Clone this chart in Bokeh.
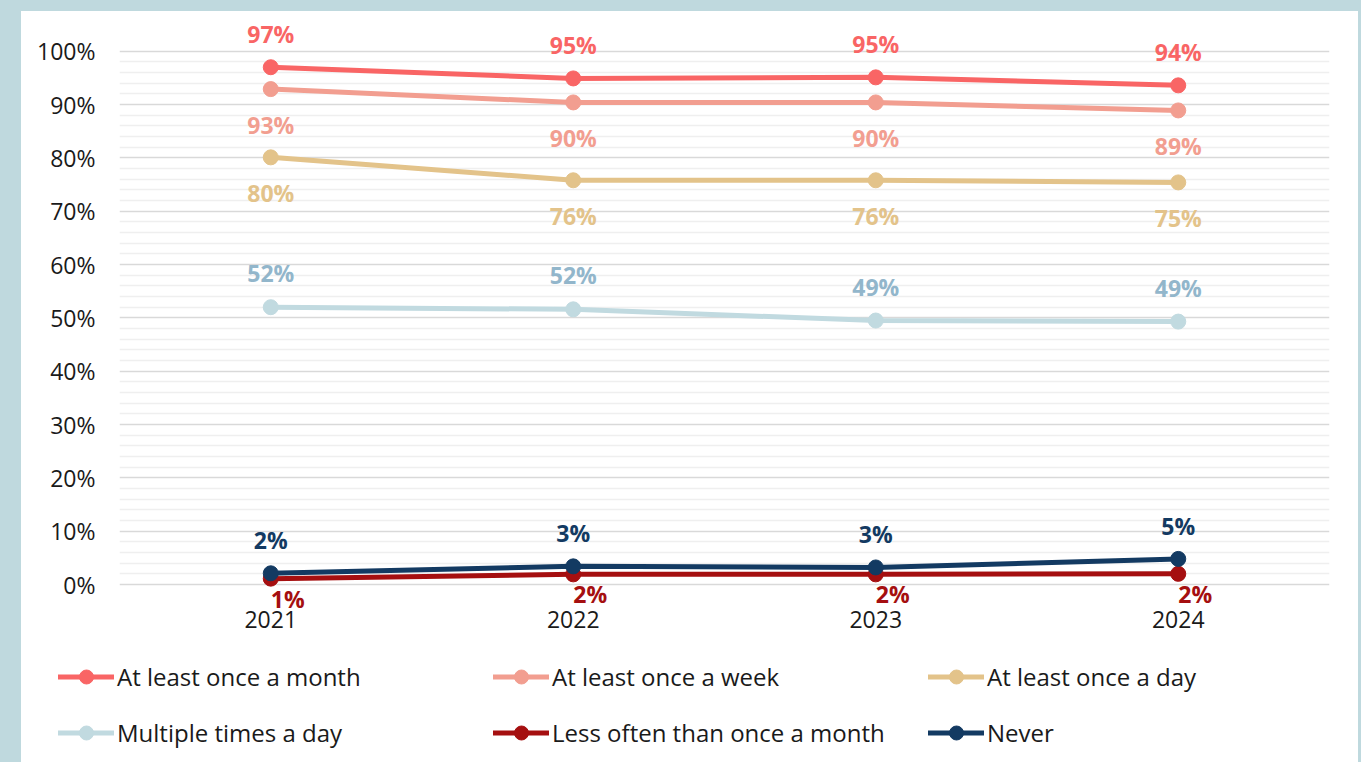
from bokeh.plotting import figure
from bokeh.models import (FactorRange, Range1d, ColumnDataSource, LabelSet, Legend, LegendItem,
                          FixedTicker, PrintfTickFormatter)
from bokeh.layouts import column
from bokeh.embed import file_html
from bokeh.resources import INLINE
from bokeh.core.properties import value

# ---------------- data ----------------
years = ["2021", "2022", "2023", "2024"]

names = ["At least once a month", "At least once a week", "At least once a day",
         "Multiple times a day", "Less often than once a month", "Never"]

monthly = [97.0, 94.9, 95.1, 93.6]
weekly = [92.9, 90.4, 90.4, 88.9]
daily = [80.1, 75.8, 75.8, 75.4]
multiple = [52.0, 51.6, 49.5, 49.3]
less_often = [1.1, 1.9, 1.9, 2.0]
never = [2.1, 3.4, 3.2, 4.8]

monthly_lbl = ["97%", "95%", "95%", "94%"]
weekly_lbl = ["93%", "90%", "90%", "89%"]
daily_lbl = ["80%", "76%", "76%", "75%"]
multiple_lbl = ["52%", "52%", "49%", "49%"]
less_often_lbl = ["1%", "2%", "2%", "2%"]
never_lbl = ["2%", "3%", "3%", "5%"]

y_ticks = list(range(0, 101, 10))
y_minor = [v for v in range(2, 100, 2) if v % 10]

# ---------------- styles ----------------
FONT = "Open Sans"
line_colors = ["#f96565", "#f29e90", "#e3c38a", "#c1dae0", "#a50f10", "#133a62"]
label_colors = ["#f96565", "#f29e90", "#e3c38a", "#92b6cb", "#a50f10", "#133a62"]
# (x_offset, y_offset) of the value labels in pixels
offsets = [(0, 33), (0, -36), (0, -36), (0, 34), (17, -20), (0, 33)]

values = [monthly, weekly, daily, multiple, less_often, never]
labels = [monthly_lbl, weekly_lbl, daily_lbl, multiple_lbl, less_often_lbl, never_lbl]

W = 1337
p = figure(x_range=FactorRange(factors=years, range_padding=0),
           y_range=Range1d(-4.5, 106.7),
           width=W, height=627, output_backend="svg", toolbar_location=None,
           min_border_left=98, min_border_right=29, min_border_top=4, min_border_bottom=30,
           background_fill_color="white", border_fill_color="white")
p.outline_line_color = None

p.xgrid.grid_line_color = None
p.ygrid.grid_line_color = "#d9d9d9"
p.ygrid.grid_line_width = 1.5
p.ygrid.minor_grid_line_color = "#efefef"
p.ygrid.minor_grid_line_width = 1.5

p.yaxis.ticker = FixedTicker(ticks=y_ticks, minor_ticks=y_minor)
p.yaxis.formatter = PrintfTickFormatter(format="%d%%")
for ax in (p.xaxis, p.yaxis):
    ax.axis_line_color = None
    ax.major_tick_line_color = None
    ax.minor_tick_line_color = None
    ax.major_label_text_font = FONT
    ax.major_label_text_font_size = "23px"
    ax.major_label_text_color = "#1a1a1a"
p.yaxis.major_label_standoff = 18
p.xaxis.major_label_standoff = -4

# legend lives in its own strip below the chart
pl = figure(width=W, height=124, x_range=FactorRange(factors=years), y_range=Range1d(-300, -200),
            output_backend="svg", toolbar_location=None, min_border=0,
            x_axis_location=None, y_axis_location=None,
            background_fill_color="white", border_fill_color="white")
pl.outline_line_color = None
pl.grid.visible = False
if hasattr(pl, "frame_align"):
    pl.frame_align = False

items = []
for name, vals, lbls, lc, tc, (dx, dy) in zip(names, values, labels, line_colors, label_colors, offsets):
    src = ColumnDataSource(dict(x=years, y=vals, t=lbls))
    p.line("x", "y", source=src, line_color=lc, line_width=5, line_cap="round", line_join="round")
    p.scatter("x", "y", source=src, size=15, fill_color=lc, line_color=lc)
    ls = LabelSet(x="x", y="y", text="t", source=src, x_offset=dx, y_offset=dy,
                  text_align="center", text_baseline="middle",
                  text_font=value(FONT), text_font_size="23px", text_font_style="bold",
                  text_color=tc)
    p.add_layout(ls)
    # same series in the legend strip (its y-range keeps them out of view)
    lr = pl.line("x", "y", source=src, line_color=lc, line_width=5, line_cap="round")
    sr = pl.scatter("x", "y", source=src, size=15, fill_color=lc, line_color=lc)
    items.append(LegendItem(label=name, renderers=[lr, sr]))

legend = Legend(items=items, location=(37, 12), orientation="horizontal", ncols=3,
                glyph_width=56, glyph_height=35, label_height=35, label_width=355,
                label_standoff=3, spacing=21, padding=0, margin=0,
                border_line_color=None, background_fill_alpha=0,
                label_text_font=FONT, label_text_font_size="24px", label_text_color="#1a1a1a")
pl.add_layout(legend)

layout = column(p, pl, spacing=0,
                styles={"border-style": "solid", "border-color": "#bfd9de",
                        "border-width": "11px 3px 0px 21px", "background-color": "white"})

open("out.html", "w").write(file_html(layout, INLINE))
